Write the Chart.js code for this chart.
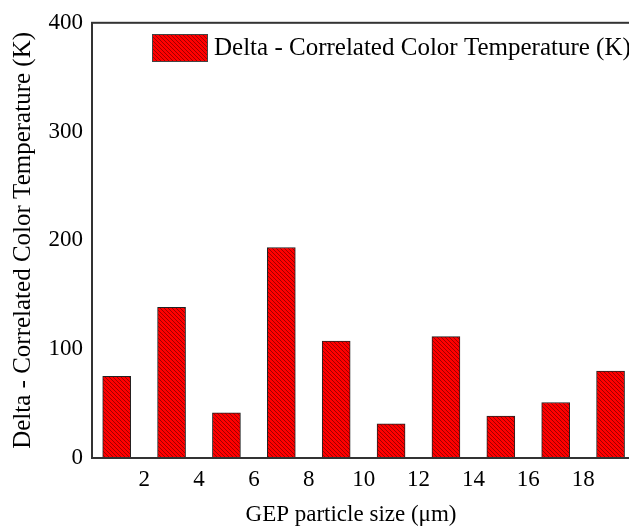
<!DOCTYPE html>
<html><head><meta charset="utf-8">
<script src="https://cdn.jsdelivr.net/npm/chart.js@4/dist/chart.umd.min.js"></script>
<style>
html,body{margin:0;padding:0;background:#fff;overflow:hidden;}
#wrap{width:629px;height:527px;overflow:hidden;position:relative;}
#box{width:660px;height:527px;position:absolute;left:0;top:0;}
</style></head><body>
<div id="wrap"><div id="box"><canvas id="c"></canvas></div></div>
<script>
// ---- data ----
const particleSize = [1, 3, 5, 7, 9, 11, 13, 15, 17, 19];
const deltaCCT = [75, 138.5, 41.5, 193.5, 107.5, 31.5, 111.5, 38.5, 51, 80];
const xTicks = [2, 4, 6, 8, 10, 12, 14, 16, 18];
const yTicks = [0, 100, 200, 300, 400];
const seriesLabel = 'Delta - Correlated Color Temperature (K)';
const xTitle = 'GEP particle size (\u03bcm)';
const yTitle = 'Delta - Correlated Color Temperature (K)';

// ---- hatch pattern ----
function makeHatch() {
  const s = 4;
  const c = document.createElement('canvas');
  c.width = s; c.height = s;
  const g = c.getContext('2d');
  g.fillStyle = '#ff0000';
  g.fillRect(0, 0, s, s);
  g.strokeStyle = 'rgba(0,0,0,0.42)';
  g.lineWidth = 0.9;
  g.beginPath();
  g.moveTo(-1, -1); g.lineTo(s + 1, s + 1);
  g.moveTo(-1, s - 1); g.lineTo(1, s + 1);
  g.moveTo(s - 1, -1); g.lineTo(s + 1, 1);
  g.stroke();
  return g.createPattern(c, 'repeat');
}
const hatch = makeHatch();
const FONT = 'Liberation Serif, Times New Roman, serif';

const framePlugin = {
  id: 'frame',
  afterDraw(chart) {
    const { ctx, chartArea: a } = chart;
    ctx.save();
    ctx.strokeStyle = '#333';
    ctx.lineWidth = 2;
    ctx.strokeRect(a.left, a.top, a.right - a.left, a.bottom - a.top);
    // legend
    const bx = 152, by = 34, bw = 56, bh = 28;
    ctx.fillStyle = hatch;
    ctx.fillRect(bx, by, bw, bh);
    ctx.lineWidth = 1;
    ctx.strokeStyle = '#444';
    ctx.strokeRect(bx + 0.5, by + 0.5, bw - 1, bh - 1);
    ctx.fillStyle = '#000';
    ctx.font = '25px ' + FONT;
    ctx.textAlign = 'left';
    ctx.textBaseline = 'middle';
    ctx.fillText(chart.data.datasets[0].label, 214, 48);
    // x axis title
    ctx.font = '23px ' + FONT;
    ctx.textAlign = 'center';
    ctx.fillText(xTitle, 351, 515);
    ctx.restore();
  }
};

new Chart(document.getElementById('c'), {
  type: 'bar',
  data: {
    datasets: [{
      label: seriesLabel,
      data: particleSize.map((x, i) => ({ x: x, y: deltaCCT[i] })),
      backgroundColor: hatch,
      borderColor: '#222',
      borderWidth: 1,
      borderSkipped: false,
      barThickness: 28
    }]
  },
  options: {
    responsive: true,
    maintainAspectRatio: false,
    animation: false,
    layout: { padding: { top: 20, right: 22, left: 0, bottom: 0 } },
    plugins: { legend: { display: false }, tooltip: { enabled: false } },
    scales: {
      x: {
        type: 'linear',
        offset: false,
        min: 0.1,
        max: 20,
        grid: { display: false, drawTicks: false },
        border: { display: false },
        afterBuildTicks: s => { s.ticks = xTicks.map(v => ({ value: v })); },
        afterFit: s => { s.height = 69; },
        ticks: { color: '#000', padding: 8, maxRotation: 0, autoSkip: false, font: { family: FONT, size: 23 } }
      },
      y: {
        min: 0,
        max: 400,
        grid: { display: false, drawTicks: false },
        border: { display: false },
        afterBuildTicks: s => { s.ticks = yTicks.map(v => ({ value: v })); },
        afterFit: s => { s.width = 92; },
        ticks: { color: '#000', padding: 9, font: { family: FONT, size: 23 } },
        title: { display: true, text: yTitle, color: '#000', padding: { top: 8, bottom: 0 }, font: { family: FONT, size: 25 } }
      }
    }
  },
  plugins: [framePlugin]
});
</script>
</body></html>
